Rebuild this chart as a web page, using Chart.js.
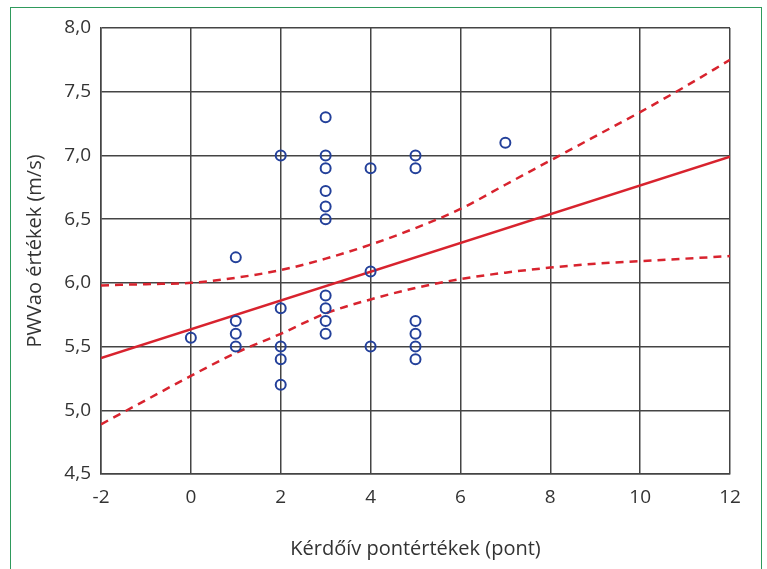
<!DOCTYPE html>
<html>
<head>
<meta charset="utf-8">
<script src="https://cdn.jsdelivr.net/npm/chart.js@4.4.1/dist/chart.umd.min.js"></script>
<style>
  body { margin: 0; background: #fff; }
  #wrap { position: relative; width: 767px; height: 569px; overflow: hidden; }
  #frame { position: absolute; left: 10px; top: 7px; width: 752px; height: 600px;
           border: 1.5px solid #2f9a5c; box-sizing: border-box; }
  canvas { position: absolute; left: 0; top: 0; }
</style>
</head>
<body>
<div id="wrap">
  <div id="frame"></div>
  <canvas id="scatterChart" width="767" height="569"></canvas>
</div>
<script>
// questionnaire score vs PWVao per patient
var scoreX = [0, 1, 1, 1, 1, 2, 2, 2, 2, 2, 3, 3, 3, 3, 3, 3, 3, 3, 3, 3, 4, 4, 4, 5, 5, 5, 5, 5, 5, 7];
var pwvY = [5.57, 6.2, 5.7, 5.6, 5.5, 7.0, 5.8, 5.5, 5.4, 5.2, 7.3, 7.0, 6.9, 6.72, 6.6, 6.5, 5.9, 5.8, 5.7, 5.6, 6.9, 6.09, 5.5, 7.0, 6.9, 5.7, 5.6, 5.5, 5.4, 7.1];

// regression line (end points)
var fitX = [-2, 12];
var fitY = [5.41, 6.99];

// confidence band
var bandX = [-2, -1, 0, 1, 2, 3, 4, 5, 6, 7, 8, 9, 10, 11, 12];
var upperY = [5.98, 5.99, 6.00, 6.04, 6.10, 6.19, 6.30, 6.43, 6.58, 6.77, 6.96, 7.15, 7.34, 7.54, 7.75];
var lowerY = [4.89, 5.08, 5.27, 5.45, 5.60, 5.76, 5.87, 5.96, 6.03, 6.08, 6.12, 6.15, 6.17, 6.19, 6.21];

var xTicks = [-2, 0, 2, 4, 6, 8, 10, 12];
var yTicks = [4.5, 5.0, 5.5, 6.0, 6.5, 7.0, 7.5, 8.0];

function pairs(xs, ys) {
    var out = [];
    for (var i = 0; i < xs.length; i++) {
        out.push({x: xs[i], y: ys[i]});
    }
    return out;
}

var RED = "#d8232e";
var BLUE = "#23409a";
var GRID = "#444444";
var FONT = "'Open Sans', sans-serif";

const CHART = document.getElementById("scatterChart");
var scatterChart = new Chart(CHART, {
    type: 'scatter',
    data: {
        datasets: [
            {
                data: pairs(scoreX, pwvY),
                pointStyle: 'circle',
                pointRadius: 5,
                pointBorderWidth: 2,
                pointBorderColor: BLUE,
                pointBackgroundColor: "rgba(255,255,255,0)",
                showLine: false,
                order: 0
            },
            {
                data: pairs(fitX, fitY),
                showLine: true,
                borderColor: RED,
                borderWidth: 2.5,
                pointRadius: 0,
                order: 1
            },
            {
                data: pairs(bandX, upperY),
                showLine: true,
                borderColor: RED,
                borderWidth: 2.5,
                borderDash: [8, 6],
                cubicInterpolationMode: 'monotone',
                pointRadius: 0,
                order: 1
            },
            {
                data: pairs(bandX, lowerY),
                showLine: true,
                borderColor: RED,
                borderWidth: 2.5,
                borderDash: [8, 6],
                cubicInterpolationMode: 'monotone',
                pointRadius: 0,
                order: 1
            }
        ]
    },
    options: {
        responsive: false,
        animation: false,
        layout: { padding: { left: 0, top: 28, right: 37, bottom: 0 } },
        plugins: { legend: { display: false }, tooltip: { enabled: false } },
        scales: {
            x: {
                type: 'linear',
                min: -2,
                max: 12,
                afterBuildTicks: function (scale) {
                    scale.ticks = xTicks.map(function (v) { return {value: v}; });
                },
                afterFit: function (scale) { scale.height = 95; },
                grid: { color: GRID, lineWidth: 1.5, drawTicks: false },
                border: { color: GRID, width: 1.5 },
                ticks: {
                    padding: 12,
                    color: "#333",
                    font: { family: FONT, size: 19 },
                    callback: function (v) { return String(v); }
                },
                title: {
                    display: true,
                    text: "Kérdőív pontértékek (pont)",
                    color: "#333",
                    font: { family: FONT, size: 20 },
                    padding: { top: 0, bottom: 8 }
                }
            },
            y: {
                type: 'linear',
                min: 4.5,
                max: 8.0,
                afterBuildTicks: function (scale) {
                    scale.ticks = yTicks.map(function (v) { return {value: v}; });
                },
                afterFit: function (scale) { scale.width = 101; },
                grid: { color: GRID, lineWidth: 1.5, drawTicks: false },
                border: { color: GRID, width: 1.5 },
                ticks: {
                    padding: 10,
                    color: "#333",
                    font: { family: FONT, size: 19 },
                    callback: function (v) { return v.toFixed(1).replace(".", ","); }
                },
                title: {
                    display: true,
                    text: "PWVao értékek (m/s)",
                    color: "#333",
                    font: { family: FONT, size: 20 },
                    padding: { top: 23, bottom: 0 }
                }
            }
        }
    }
});
</script>
</body>
</html>
